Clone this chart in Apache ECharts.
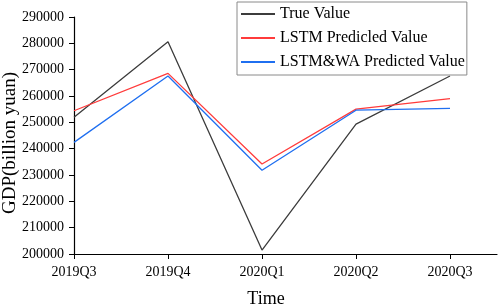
<!DOCTYPE html>
<html>
<head>
<meta charset="utf-8">
<script src="https://cdn.jsdelivr.net/npm/echarts@6/dist/echarts.min.js"></script>
<style>
  html, body { margin: 0; padding: 0; background: #fff; }
  #chart { width: 498px; height: 308px; }
</style>
</head>
<body>
<div id="chart"></div>
<script>
// quarters on the x axis
const quarters = ['2019Q3', '2019Q4', '2020Q1', '2020Q2', '2020Q3'];
// GDP values, billion yuan
const trueValue = [251900, 280600, 201500, 249300, 267600];
const lstmValue = [254400, 268600, 234200, 255000, 259000];
const lstmWaValue = [242400, 267600, 231800, 254600, 255300];

const serif = 'Liberation Serif';
const toPairs = arr => arr.map((v, i) => [i, v]);
const tickFont = { fontFamily: serif, fontSize: 14, color: '#000' };

const chart = echarts.init(document.getElementById('chart'));

chart.setOption({
  animation: false,
  textStyle: { fontFamily: serif },
  grid: { left: 74, top: 17, right: 1, bottom: 54 },
  legend: {
    orient: 'vertical',
    left: 237,
    top: 2,
    padding: [4, 2, 5, 3],
    itemWidth: 34,
    itemHeight: 14,
    itemGap: 8,
    borderColor: '#8a8a8a',
    borderWidth: 1,
    itemStyle: { opacity: 0 },
    textStyle: { fontFamily: serif, fontSize: 16, color: '#000' },
    data: ['True Value', 'LSTM Predicled Value', 'LSTM&WA Predicted Value']
  },
  xAxis: {
    type: 'value',
    min: 0,
    max: 4.5,
    interval: 1,
    splitLine: { show: false },
    axisLine: { lineStyle: { color: '#000', width: 1.2 } },
    axisTick: { length: 5, customValues: [0, 1, 2, 3, 4], lineStyle: { color: '#000' } },
    axisLabel: Object.assign({
      customValues: [0, 1, 2, 3, 4],
      formatter: v => '{t|' + (quarters[v] || '') + '}',
      rich: { t: tickFont },
      margin: 11
    }, tickFont)
  },
  yAxis: {
    type: 'value',
    min: 200000,
    max: 290000,
    interval: 10000,
    splitLine: { show: false },
    axisLine: { show: true, lineStyle: { color: '#000', width: 1.2 } },
    axisTick: { show: true, length: 5, lineStyle: { color: '#000' } },
    axisLabel: Object.assign({
      formatter: v => '{t|' + v + '}',
      rich: { t: tickFont },
      margin: 10
    }, tickFont)
  },
  graphic: [
    {
      type: 'text',
      x: 10, y: 143,
      rotation: Math.PI / 2,
      style: {
        text: 'GDP(billion yuan)', font: '19px "Liberation Serif"',
        fill: '#000', align: 'center', verticalAlign: 'middle'
      }
    },
    {
      type: 'text',
      x: 266, y: 299,
      style: {
        text: 'Time', font: '18px "Liberation Serif"',
        fill: '#000', align: 'center', verticalAlign: 'middle'
      }
    }
  ],
  series: [
    {
      name: 'True Value', type: 'line', symbol: 'none',
      lineStyle: { color: '#3c3c3c', width: 1.3 }, itemStyle: { color: '#3c3c3c' },
      data: toPairs(trueValue)
    },
    {
      name: 'LSTM Predicled Value', type: 'line', symbol: 'none',
      lineStyle: { color: '#ff3b3b', width: 1.3 }, itemStyle: { color: '#ff3b3b' },
      data: toPairs(lstmValue)
    },
    {
      name: 'LSTM&WA Predicted Value', type: 'line', symbol: 'none',
      lineStyle: { color: '#1f6ff0', width: 1.3 }, itemStyle: { color: '#1f6ff0' },
      data: toPairs(lstmWaValue)
    }
  ]
});
</script>
</body>
</html>
